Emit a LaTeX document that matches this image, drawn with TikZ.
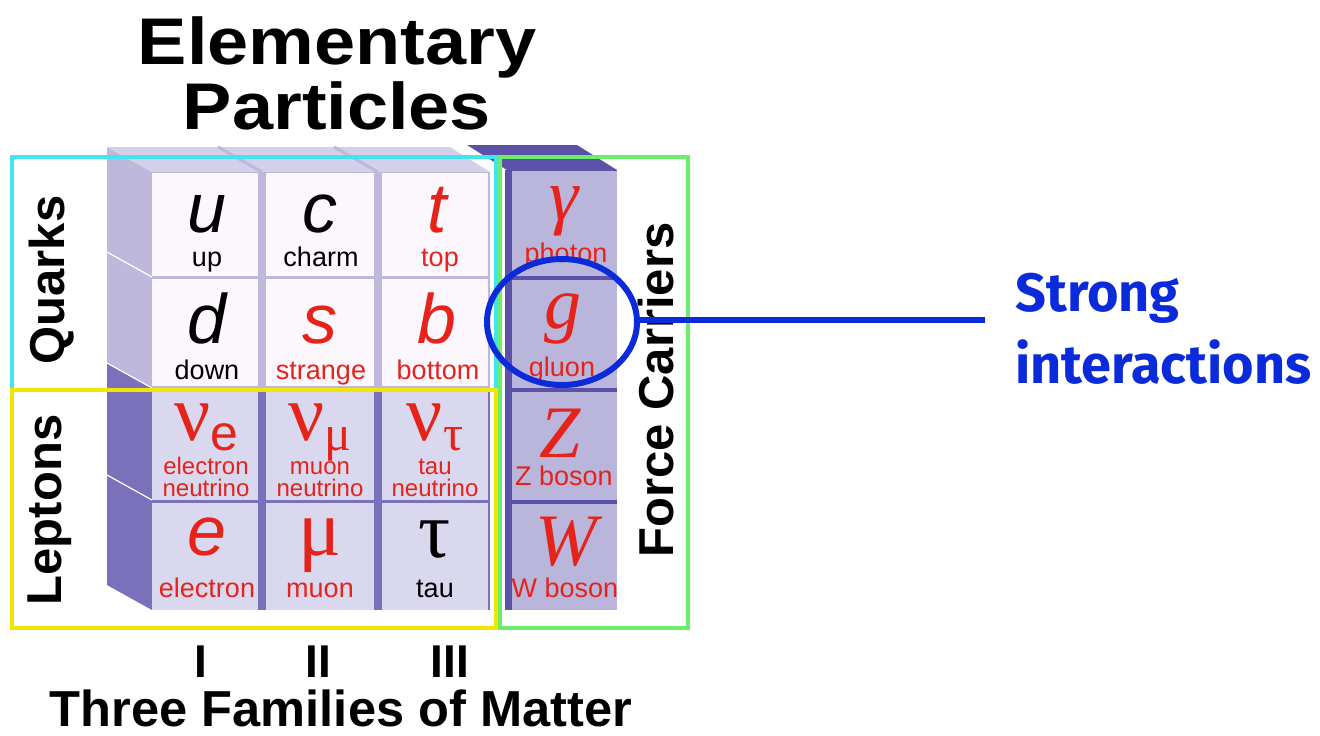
\documentclass[tikz,border=0pt]{standalone}
\usepackage{fontspec}
\setmainfont{Liberation Sans}
\newfontfamily\serf{Liberation Serif}
\newfontfamily\handfont{Fira Sans}
\usetikzlibrary{shapes.geometric}
\definecolor{qcell}{HTML}{FBF7FD}
\definecolor{qside}{HTML}{BDB8DC}
\definecolor{qtop}{HTML}{D3D0E9}
\definecolor{lcell}{HTML}{D9D8EE}
\definecolor{lside}{HTML}{7B70BA}
\definecolor{fcell}{HTML}{BAB5DA}
\definecolor{fside}{HTML}{5B52A8}
\definecolor{pred}{HTML}{E5231B}
\definecolor{cyanbox}{HTML}{3FE6F2}
\definecolor{yelbox}{HTML}{F0E600}
\definecolor{grnbox}{HTML}{6CEE6C}
\definecolor{sblue}{HTML}{0B2BDB}
\tikzset{
  sym/.style={anchor=base, inner sep=0pt, font=\fontsize{35}{35}\selectfont\itshape},
  ssym/.style={anchor=base, inner sep=0pt, font=\fontsize{37}{37}\selectfont\serf\itshape},
  grk/.style={anchor=base, inner sep=0pt, font=\fontsize{40}{40}\selectfont\serf},
  lab/.style={anchor=base, inner sep=0pt, font=\fontsize{13.5}{13.5}\selectfont},
  lab2/.style={anchor=base, inner sep=0pt, font=\fontsize{12}{12}\selectfont},
  head/.style={inner sep=0pt, font=\fontsize{24.5}{24.5}\selectfont\bfseries},
  title/.style={anchor=base, inner sep=0pt, font=\fontsize{33}{33}\selectfont\bfseries},
  box/.style={line width=1.6pt},
}
\newcommand{\wide}[1]{\scalebox{1.12}[1]{#1}}
\newcommand{\subsc}[1]{\raisebox{-5pt}{\fontsize{25}{25}\selectfont #1}}
\begin{document}
\begin{tikzpicture}[x=0.5pt,y=-0.5pt]
\useasboundingbox (0,0) rectangle (1320,735);
\fill[white] (0,0) rectangle (1320,735);

% ---- title
\node[title] (t1) at (337,64) {\wide{Elementary}};
\node[title] (t2) at (337,129) {\wide{Particles}};

% ---- matter grid: side and top faces
\fill[qside] (107,147) -- (152,172) -- (152,388) -- (107,363) -- cycle;
\fill[lside] (107,363) -- (152,388) -- (152,610) -- (107,585) -- cycle;
\draw[white, line width=0.6pt] (107,252) -- (152,277);
\draw[white, line width=0.6pt] (107,363) -- (152,388);
\draw[white, line width=0.6pt] (107,475) -- (152,500);
\fill[qtop] (107,147) -- (450,147) -- (490,172) -- (152,172) -- cycle;
\draw[qside, line width=1.5pt] (218,147) -- (262,172);
\draw[qside, line width=1.5pt] (334,147) -- (378,172);
\fill[qside] (152,172) rectangle (490,388);
\fill[lside] (152,388) rectangle (490,610);

% ---- force carriers column
\fill[fside] (467,145) -- (577,145) -- (617,170) -- (507,170) -- cycle;
\fill[fside] (505,170) rectangle (617,610);

% ---- cells
\foreach \xa/\xb in {152/258, 266/374, 382/488}{
  \fill[qcell] (\xa,173) rectangle (\xb,276);
  \fill[qcell] (\xa,279) rectangle (\xb,386);
  \fill[lcell] (\xa,391) rectangle (\xb,500);
  \fill[lcell] (\xa,503) rectangle (\xb,610);
}
\fill[fcell] (512,171) rectangle (617,276);
\fill[fcell] (512,280) rectangle (617,388);
\fill[fcell] (512,392) rectangle (617,500);
\fill[fcell] (512,504) rectangle (617,610);

% ---- quarks
\node[sym] (u) at (207,232) {u};
\node[lab] (up) at (207,266) {up};
\node[sym] (c) at (320,232) {c};
\node[lab] (charm) at (321,266) {charm};
\node[sym, text=pred] (t) at (437,232) {t};
\node[lab, text=pred] (top) at (440,266) {top};
\node[sym] (d) at (207,343) {d};
\node[lab] (down) at (207,379) {down};
\node[sym, text=pred] (s) at (320,343) {s};
\node[lab, text=pred] (strange) at (321,379) {strange};
\node[sym, text=pred] (b) at (437,343) {b};
\node[lab, text=pred] (bottom) at (438,379) {bottom};

% ---- leptons
\node[grk, text=pred] (nue) at (206,440) {ν\subsc{\normalfont e}};
\node[lab2, text=pred] (nuel1) at (206,474) {electron};
\node[lab2, text=pred] (nuel2) at (206,496) {neutrino};
\node[grk, text=pred] (num) at (320,440) {ν\subsc{μ}};
\node[lab2, text=pred] (numl1) at (320,474) {muon};
\node[lab2, text=pred] (numl2) at (320,496) {neutrino};
\node[grk, text=pred] (nut) at (435,440) {ν\subsc{τ}};
\node[lab2, text=pred] (nutl1) at (435,474) {tau};
\node[lab2, text=pred] (nutl2) at (435,496) {neutrino};
\node[sym, text=pred] (e) at (207,555) {e};
\node[lab, text=pred] (el) at (207,597) {electron};
\node[grk, text=pred] (mu) at (320,555) {μ};
\node[lab, text=pred] (mul) at (320,597) {muon};
\node[grk] (tau) at (435,557) {τ};
\node[lab] (taul) at (435,597) {tau};

% ---- force carriers
\node[ssym, text=pred] (gam) at (564,220) {γ};
\node[lab, text=pred] (gaml) at (566,262) {photon};
\node[ssym, text=pred] (g) at (563,328) {g};
\node[lab, text=pred] (gl) at (562,376) {gluon};
\node[ssym, text=pred] (Z) at (560,457) {Z};
\node[lab, text=pred] (Zl) at (564,485) {Z boson};
\node[ssym, text=pred] (W) at (566,565) {W};
\node[lab, text=pred] (Wl) at (565,597) {W boson};

% ---- group boxes
\draw[box, cyanbox] (12,157) rectangle (496,390);
\draw[box, yelbox] (12,390) rectangle (496,628);
\draw[box, grnbox] (500,157) rectangle (688,628);

\node[head, rotate=90] (quarks) at (52,280) {Quarks};
\node[head, rotate=90] (leptons) at (50,510) {Leptons};
\node[head, rotate=90] (force) at (656,390) {Force Carriers};

% ---- families
\node[head, anchor=base, font=\fontsize{23}{23}\selectfont\bfseries] (f1) at (201,677) {I};
\node[head, anchor=base, font=\fontsize{23}{23}\selectfont\bfseries] (f2) at (318,677) {II};
\node[head, anchor=base, font=\fontsize{23}{23}\selectfont\bfseries] (f3) at (450,677) {III};
\node[head, anchor=base, font=\fontsize{25.3}{25.3}\selectfont\bfseries] (fam) at (341,726) {Three Families of Matter};

% ---- annotation
\node[draw=sblue, line width=3pt, ellipse, minimum width=75pt, minimum height=63pt, inner sep=0pt] (circ) at (562,322) {};
\coordinate (lend) at (985,320);
\draw[sblue, line width=2.6pt] (circ.east |- lend) -- (lend);
\node[anchor=base west, inner sep=0pt, text=sblue, font=\fontsize{27}{27}\selectfont\handfont\bfseries] (strong) at (1015,311) {Strong};
\node[anchor=base west, inner sep=0pt, text=sblue, font=\fontsize{27}{27}\selectfont\handfont\bfseries] (inter) at (1015,383) {interactions};
\end{tikzpicture}
\end{document}
